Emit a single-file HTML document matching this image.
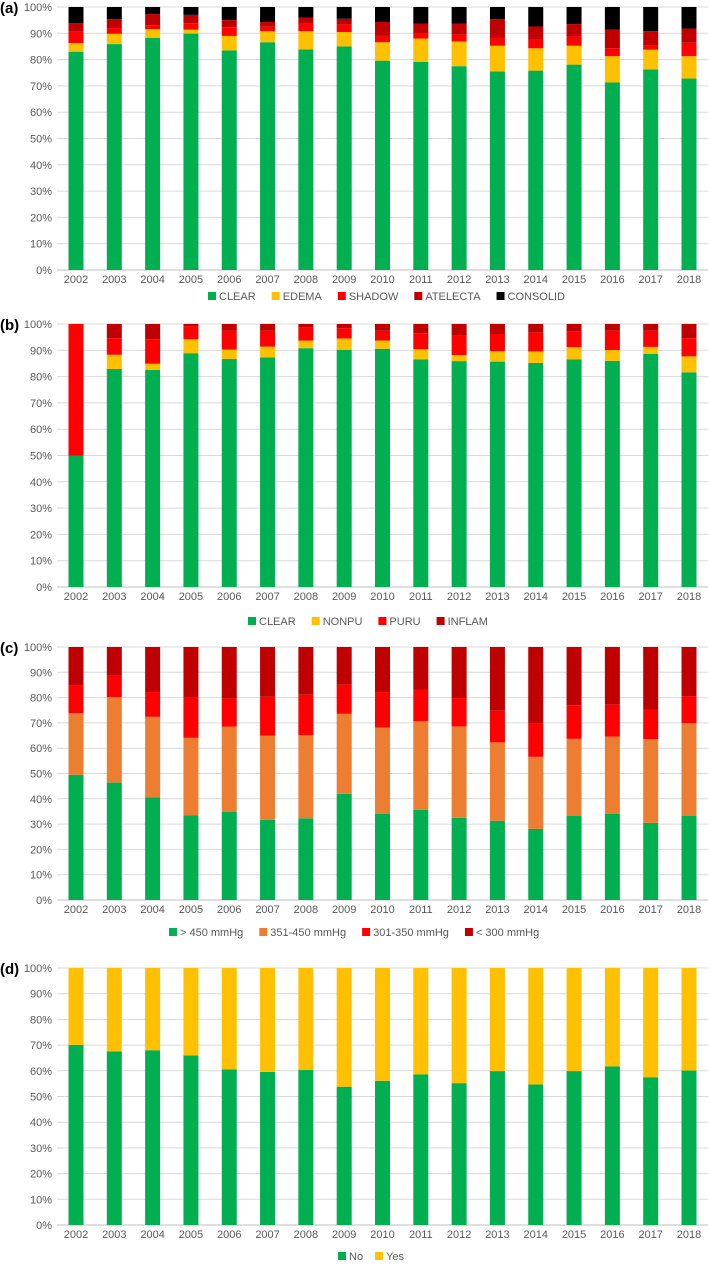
<!DOCTYPE html>
<html><head><meta charset="utf-8">
<style>
html,body{margin:0;padding:0;background:#fff;}
body{width:709px;height:1263px;overflow:hidden;font-family:"Liberation Sans",sans-serif;}
svg text{font-family:"Liberation Sans",sans-serif;}
</style></head>
<body>
<svg id="chart" width="709" height="1263" viewBox="0 0 709 1263" xmlns="http://www.w3.org/2000/svg"></svg>
<script>
const years = ["2002","2003","2004","2005","2006","2007","2008","2009","2010","2011","2012","2013","2014","2015","2016","2017","2018"];
const yTicks = ["0%","10%","20%","30%","40%","50%","60%","70%","80%","90%","100%"];

// Panel (a) – segment shares (%)
const aClear    = [83.0,85.9,88.3,89.9,83.5,86.6,83.9,85.0,79.6,79.1,77.5,75.5,75.8,78.1,71.3,76.3,72.8];
const aEdema    = [3.3,3.9,3.3,1.5,5.5,4.2,6.9,5.5,7.0,8.9,9.4,9.8,8.5,7.2,10.0,7.5,8.5];
const aShadow   = [4.3,2.2,1.5,2.4,3.3,1.7,2.8,2.8,2.4,2.1,2.6,3.1,3.2,3.5,3.0,1.6,5.1];
const aAtelecta = [3.2,3.4,4.2,3.2,2.7,1.8,2.3,2.2,5.3,3.5,4.1,7.0,5.1,4.7,7.1,5.4,5.4];
const aConsolid = [6.2,4.6,2.7,3.0,5.0,5.7,4.1,4.5,5.7,6.4,6.4,4.6,7.4,6.5,8.6,9.2,8.2];

// Panel (b)
const bClear  = [50.0,82.9,82.5,88.9,86.7,87.3,90.8,90.2,90.6,86.5,85.9,85.7,85.2,86.5,86.0,88.6,81.6];
const bNonpu  = [0.0,5.4,2.4,5.3,3.6,4.1,2.9,4.3,3.1,3.9,2.3,4.0,4.4,4.7,4.1,2.7,6.1];
const bPuru   = [50.0,6.3,9.3,5.0,7.2,6.0,4.9,3.9,3.7,6.1,7.3,6.5,7.1,6.0,7.3,6.1,6.9];
const bInflam = [0.0,5.4,5.8,0.8,2.5,2.6,1.4,1.6,2.6,3.5,4.5,3.8,3.3,2.8,2.6,2.6,5.4];

// Panel (c)
const cGt450  = [49.5,46.4,40.5,33.4,34.8,31.7,32.3,42.0,34.0,35.6,32.5,31.3,28.1,33.2,34.0,30.5,33.2];
const c351    = [24.4,33.8,31.9,30.7,33.7,33.3,32.9,31.6,34.2,35.1,36.1,31.0,28.5,30.5,30.6,33.1,36.7];
const c301    = [10.8,8.5,9.8,15.9,11.1,15.3,15.9,11.5,14.0,12.5,11.2,12.5,13.2,13.3,12.6,11.7,10.6];
const cLt300  = [15.3,11.3,17.8,20.0,20.4,19.7,18.9,14.9,17.8,16.8,20.2,25.2,30.2,23.0,22.8,24.7,19.5];

// Panel (d)
const dNo  = [70.1,67.5,68.0,66.0,60.6,59.6,60.3,53.8,56.1,58.6,55.2,59.9,54.7,59.9,61.7,57.5,60.1];
const dYes = [29.9,32.5,32.0,34.0,39.4,40.4,39.7,46.2,43.9,41.4,44.8,40.1,45.3,40.1,38.3,42.5,39.9];

const svg = document.getElementById('chart');
const NS = 'http://www.w3.org/2000/svg';
function mk(tag, attrs, parent){
  const e = document.createElementNS(NS, tag);
  for (const k in attrs) e.setAttribute(k, attrs[k]);
  (parent||svg).appendChild(e);
  return e;
}
const X0 = 57, X1 = 708, BAR_W = 15;
function xCenter(i){ return 76 + i * (689 - 76) / (years.length - 1); }

function panel(cfg){
  const g = mk('g', {});
  
  
  const top = cfg.top, bot = cfg.bot;
  const yScale = v => bot - (v / 100) * (bot - top);
  // panel letter
  const lt = mk('text', {x: 0, y: top + 6, 'font-size': 15, 'font-weight': 'bold', fill: '#000'}, g);
  lt.textContent = cfg.letter;
  
  
  // gridlines and ticks
  yTicks.forEach((t, k) => {
    const y = yScale(k * 10);
    const gl = mk('line', {x1: X0, x2: X1, y1: y, y2: y, stroke: k === 0 ? '#bfbfbf' : '#d9d9d9', 'stroke-width': 1}, g);
    
    
    const tx = mk('text', {x: 52, y: y + 4, 'font-size': 11, fill: '#595959', 'text-anchor': 'end'}, g);
    tx.textContent = t;
    
    
  });
  // bars
  years.forEach((yr, i) => {
    let acc = 0;
    cfg.series.forEach(s => {
      const v = s.data[i];
      const y1 = yScale(acc), y2 = yScale(Math.min(100, acc + v));
      acc += v;
      if (v <= 0) return;
      const r = mk('rect', {x: xCenter(i) - BAR_W / 2, y: y2, width: BAR_W, height: Math.max(0, y1 - y2), fill: s.color}, g);
      
      
    });
    const lx = mk('text', {x: xCenter(i), y: bot + 13, 'font-size': 11, fill: '#595959', 'text-anchor': 'middle'}, g);
    lx.textContent = yr;
    
    
  });
  // legend
  const lg = mk('g', {}, g);
  
  
  let x = cfg.legendX;
  cfg.series.forEach(s => {
    const sq = mk('rect', {x: x, y: cfg.legendY - 8, width: 8, height: 8, fill: s.color}, lg);
    
    
    const t = mk('text', {x: x + 11, y: cfg.legendY, 'font-size': 11, fill: '#595959'}, lg);
    t.textContent = s.label;
    
    
    x += 11 + t.getComputedTextLength() + cfg.legendGap;
  });
}

panel({name: 'panel-a', letter: '(a)', top: 7, bot: 270, legendY: 300, legendX: 208, legendGap: 16, series: [
  {key: 'clear', label: 'CLEAR', color: '#00b050', data: aClear},
  {key: 'edema', label: 'EDEMA', color: '#ffc000', data: aEdema},
  {key: 'shadow', label: 'SHADOW', color: '#ff0000', data: aShadow},
  {key: 'atelecta', label: ' ATELECTA', color: '#c00000', data: aAtelecta},
  {key: 'consolid', label: 'CONSOLID', color: '#000000', data: aConsolid}
]});
panel({name: 'panel-b', letter: '(b)', top: 324, bot: 587, legendY: 625, legendX: 248, legendGap: 16, series: [
  {key: 'clear', label: 'CLEAR', color: '#00b050', data: bClear},
  {key: 'nonpu', label: 'NONPU', color: '#ffc000', data: bNonpu},
  {key: 'puru', label: 'PURU', color: '#ff0000', data: bPuru},
  {key: 'inflam', label: 'INFLAM', color: '#c00000', data: bInflam}
]});
panel({name: 'panel-c', letter: '(c)', top: 647, bot: 900, legendY: 936, legendX: 169, legendGap: 16, series: [
  {key: 'gt450', label: '> 450 mmHg', color: '#00b050', data: cGt450},
  {key: '351-450', label: '351-450 mmHg', color: '#ed7d31', data: c351},
  {key: '301-350', label: '301-350 mmHg', color: '#ff0000', data: c301},
  {key: 'lt300', label: '< 300 mmHg', color: '#c00000', data: cLt300}
]});
panel({name: 'panel-d', letter: '(d)', top: 968, bot: 1225, legendY: 1260, legendX: 338, legendGap: 12, series: [
  {key: 'no', label: 'No', color: '#00b050', data: dNo},
  {key: 'yes', label: 'Yes', color: '#ffc000', data: dYes}
]});
</script>
</body></html>
